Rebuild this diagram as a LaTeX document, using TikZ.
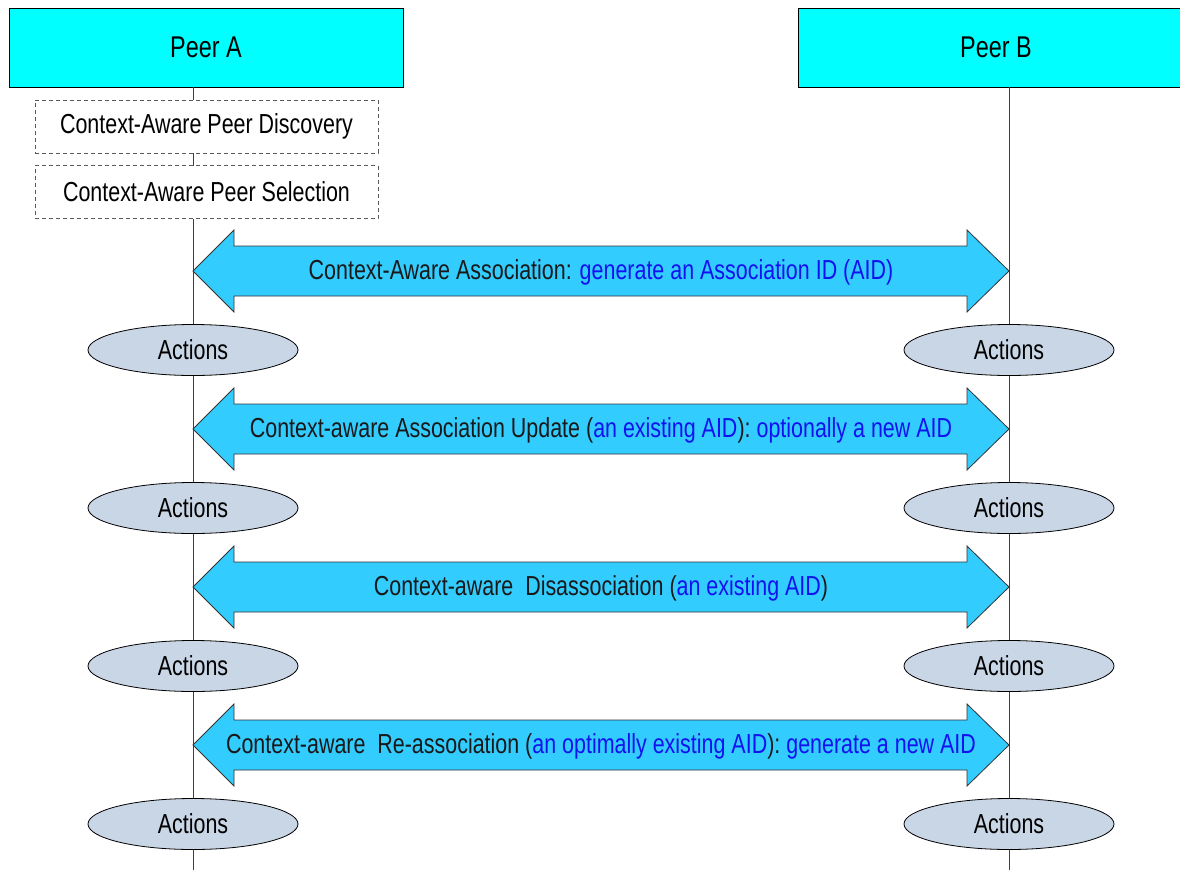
\documentclass[tikz,border=0pt]{standalone}
\usepackage{fontspec}
\setmainfont[FakeStretch=0.78]{Liberation Sans}
\usetikzlibrary{shapes.geometric,calc}
\definecolor{hdr}{HTML}{00FFFF}
\definecolor{arr}{HTML}{33CCFF}
\definecolor{act}{HTML}{C9D6E6}
\definecolor{txtblue}{HTML}{1212F0}
\definecolor{lifegray}{HTML}{404040}
\newcommand{\assocarrow}[3]{%
  \coordinate (#1L) at (193,#2);
  \coordinate (#1R) at (1009,#2);
  \draw[arrowbody] (#1L) -- ++(41,-41) -- ++(0,16) -- ($(#1R)+(-42,-25)$) -- ++(0,-16) -- (#1R)
     -- ++(-42,41) -- ++(0,-16) -- ($(#1L)+(41,25)$) -- ++(0,16) -- cycle;
  \node[arrowtext] (#1T) at ($(#1L)!0.5!(#1R)+(0,1)$) {#3};
}
\begin{document}
\begin{tikzpicture}[x=1pt,y=-1pt,
  font=\fontsize{27.5}{32}\selectfont,
  peer/.style={draw=black, line width=0.8pt, fill=hdr, minimum height=79, inner sep=0, font=\fontsize{30}{34}\selectfont},
  phase/.style={draw=black!65, dash pattern=on 4pt off 3pt, line width=0.8pt, fill=white, minimum width=343, minimum height=53, inner sep=0},
  life/.style={draw=lifegray, line width=0.8pt},
  arrowbody/.style={draw=black!80, line width=0.8pt, fill=arr},
  arrowtext/.style={inner sep=0, text=black!90},
  act/.style={ellipse, draw=black, line width=0.8pt, fill=act, minimum width=210, minimum height=51, inner sep=0}]
\useasboundingbox (0,0) rectangle (1180,870);
\clip (0,0) rectangle (1180,870);
\fill[white] (0,0) rectangle (1180,870);
% peers
\node[peer, minimum width=394] (pa) at (206,47.5) {Peer A};
\node[peer, minimum width=396] (pb) at (996,47.5) {Peer B};
% lifelines
\coordinate (laend) at (193,870);
\coordinate (lbend) at (1009,870);
\draw[life] (laend |- pa.south) -- (laend);
\draw[life] (lbend |- pb.south) -- (lbend);
% phases
\node[phase] (disc) at (206.5,126.5) {Context-Aware Peer Discovery};
\node[phase] (sel) at (206.5,192) {Context-Aware Peer Selection};
% arrows
\assocarrow{m1}{271}{Context-Aware Association: \textcolor{txtblue}{generate an Association ID (AID)}}
\assocarrow{m2}{429}{Context-aware Association Update (\textcolor{txtblue}{an existing AID}): \textcolor{txtblue}{optionally a new AID}}
\assocarrow{m3}{587}{Context-aware\ \ Disassociation (\textcolor{txtblue}{an existing AID})}
\assocarrow{m4}{745}{Context-aware\ \ Re-association (\textcolor{txtblue}{an optimally existing AID}): \textcolor{txtblue}{generate a new AID}}
% actions
\foreach \y [count=\i] in {350,508,666,824}{
  \node[act] (aa\i) at (193,\y) {Actions};
  \node[act] (ab\i) at (1009,\y) {Actions};
}
\end{tikzpicture}
\end{document}
